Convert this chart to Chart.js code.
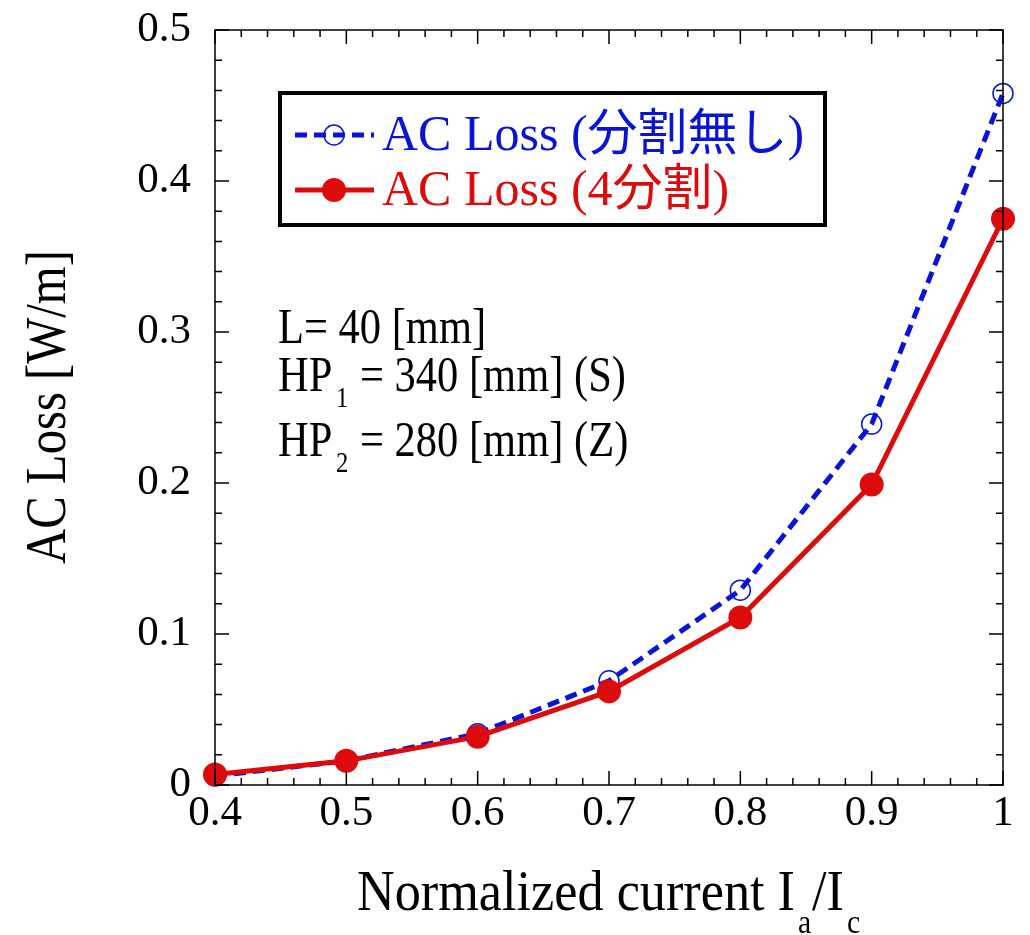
<!DOCTYPE html>
<html>
<head>
<meta charset="utf-8">
<script src="https://cdn.jsdelivr.net/npm/chart.js@4/dist/chart.umd.min.js"></script>
<style>
  html, body { margin: 0; padding: 0; background: #fff; }
  #wrap { width: 1030px; height: 935px; }
</style>
</head>
<body>
<div id="wrap"><canvas id="myChart" width="1030" height="935"></canvas></div>
<script>
const currents = [0.4, 0.5, 0.6, 0.7, 0.8, 0.9, 1.0];
const lossNoSplit = [0.006, 0.016, 0.034, 0.069, 0.129, 0.239, 0.458];
const lossSplit4 = [0.007, 0.016, 0.032, 0.062, 0.111, 0.199, 0.375];
const labelNoSplit = "AC Loss (分割無し)";
const labelSplit4 = "AC Loss (4分割)";
const notes = ["L= 40 [mm]", "HP", "1", "= 340 [mm] (S)", "HP", "2", "= 280 [mm] (Z)"];

const blue = "#0a14d6";
const red = "#dd0b0b";
const serif = "'Liberation Serif', 'Noto Sans CJK JP', serif";

// text squeezed horizontally, the source figure uses a narrow serif
function squeezed(ctx, text, x, y, size, sx) {
    ctx.save();
    ctx.font = size + "px " + serif;
    ctx.translate(x, y);
    ctx.scale(sx, 1);
    ctx.fillText(text, 0, 0);
    const w = ctx.measureText(text).width * sx;
    ctx.restore();
    return w;
}

const framePlugin = {
    id: "frame",
    afterDraw(chart) {
        const ctx = chart.ctx;
        const a = chart.chartArea;
        const xs = chart.scales.x;
        const ys = chart.scales.y;
        ctx.save();

        // frame
        ctx.strokeStyle = "#000";
        ctx.lineWidth = 1.5;
        ctx.strokeRect(a.left, a.top, a.right - a.left, a.bottom - a.top);

        // inward ticks, major + minor
        ctx.beginPath();
        for (let i = 0; i <= 30; i++) {
            const px = xs.getPixelForValue(0.4 + i * 0.02);
            const len = i % 5 === 0 ? 14 : 7;
            ctx.moveTo(px, a.bottom); ctx.lineTo(px, a.bottom - len);
            ctx.moveTo(px, a.top); ctx.lineTo(px, a.top + len);
        }
        for (let i = 0; i <= 25; i++) {
            const py = ys.getPixelForValue(i * 0.02);
            const len = i % 5 === 0 ? 14 : 7;
            ctx.moveTo(a.left, py); ctx.lineTo(a.left + len, py);
            ctx.moveTo(a.right, py); ctx.lineTo(a.right - len, py);
        }
        ctx.stroke();

        // legend box
        const lx = a.left + 65, ly = a.top + 63;
        ctx.lineWidth = 4;
        ctx.strokeRect(lx, ly, 545, 132);
        const rows = [
            { y: ly + 42, color: blue, text: labelNoSplit, dash: [12, 7], open: true },
            { y: ly + 97, color: red, text: labelSplit4, dash: [], open: false }
        ];
        rows.forEach(r => {
            ctx.strokeStyle = r.color;
            ctx.lineWidth = 5;
            ctx.setLineDash(r.dash);
            ctx.beginPath();
            ctx.moveTo(lx + 15, r.y); ctx.lineTo(lx + 94, r.y);
            ctx.stroke();
            ctx.setLineDash([]);
            ctx.beginPath();
            ctx.arc(lx + 54, r.y, r.open ? 10 : 12, 0, Math.PI * 2);
            if (r.open) {
                ctx.lineWidth = 1.5;
                ctx.stroke();
            } else {
                ctx.fillStyle = r.color;
                ctx.fill();
            }
            ctx.fillStyle = r.color;
            ctx.font = "50px " + serif;
            ctx.textBaseline = "middle";
            ctx.textAlign = "left";
            ctx.fillText(r.text, lx + 102, r.y + 2);
        });

        // notes
        ctx.fillStyle = "#000";
        ctx.textBaseline = "alphabetic";
        ctx.textAlign = "left";
        const nx = a.left + 63, sx = 0.85;
        squeezed(ctx, notes[0], nx, 343, 50, sx);
        [[notes[1], notes[2], notes[3], 391], [notes[4], notes[5], notes[6], 456]].forEach(l => {
            squeezed(ctx, l[0], nx, l[3], 50, sx);
            squeezed(ctx, l[1], nx + 58, l[3] + 16, 29, sx);
            squeezed(ctx, l[2], nx + 82, l[3], 50, sx);
        });

        // axis titles
        ctx.save();
        ctx.translate(65, 407);
        ctx.rotate(-Math.PI / 2);
        ctx.font = "58px " + serif;
        const yw = ctx.measureText("AC Loss [W/m]").width;
        squeezed(ctx, "AC Loss [W/m]", -157, 0, 58, 314 / yw);
        ctx.restore();

        ctx.font = "58px " + serif;
        const xsx = 438 / ctx.measureText("Normalized current I").width;
        const ty = 910;
        squeezed(ctx, "Normalized current I", 357, ty, 58, xsx);
        squeezed(ctx, "a", 798, ty + 23, 33, xsx);
        squeezed(ctx, "/I", 812, ty, 58, xsx);
        squeezed(ctx, "c", 847, ty + 23, 33, xsx);

        ctx.restore();
    }
};

const ctx = document.getElementById("myChart").getContext("2d");
new Chart(ctx, {
    type: "line",
    data: {
        datasets: [
            {
                label: labelNoSplit,
                data: currents.map((c, i) => ({ x: c, y: lossNoSplit[i] })),
                borderColor: blue,
                borderWidth: 5,
                borderDash: [12, 7],
                pointRadius: 10,
                pointBorderWidth: 1.5,
                pointBorderColor: blue,
                pointBackgroundColor: "rgba(255,255,255,0)",
                tension: 0,
                order: 2
            },
            {
                label: labelSplit4,
                data: currents.map((c, i) => ({ x: c, y: lossSplit4[i] })),
                borderColor: red,
                borderWidth: 5,
                pointRadius: 12,
                pointBorderWidth: 0,
                pointBackgroundColor: red,
                tension: 0,
                order: 1
            }
        ]
    },
    options: {
        responsive: false,
        animation: false,
        clip: false,
        layout: { padding: { top: 30, right: 27, left: 0, bottom: 0 } },
        plugins: {
            legend: { display: false },
            tooltip: { enabled: false }
        },
        scales: {
            x: {
                type: "linear",
                min: 0.4,
                max: 1,
                grid: { display: false, drawTicks: false },
                border: { display: false },
                ticks: {
                    stepSize: 0.1,
                    color: "#000",
                    padding: 3,
                    font: { family: serif, size: 43 },
                    callback: v => Number(v.toFixed(1)).toString()
                },
                afterFit: s => { s.height = 150; }
            },
            y: {
                min: 0,
                max: 0.5,
                grid: { display: false, drawTicks: false },
                border: { display: false },
                ticks: {
                    stepSize: 0.1,
                    color: "#000",
                    padding: 24,
                    font: { family: serif, size: 43, lineHeight: 0.2 },
                    callback: v => Number(v.toFixed(1)).toString()
                },
                afterFit: s => { s.width = 215; }
            }
        }
    },
    plugins: [framePlugin]
});
</script>
</body>
</html>
